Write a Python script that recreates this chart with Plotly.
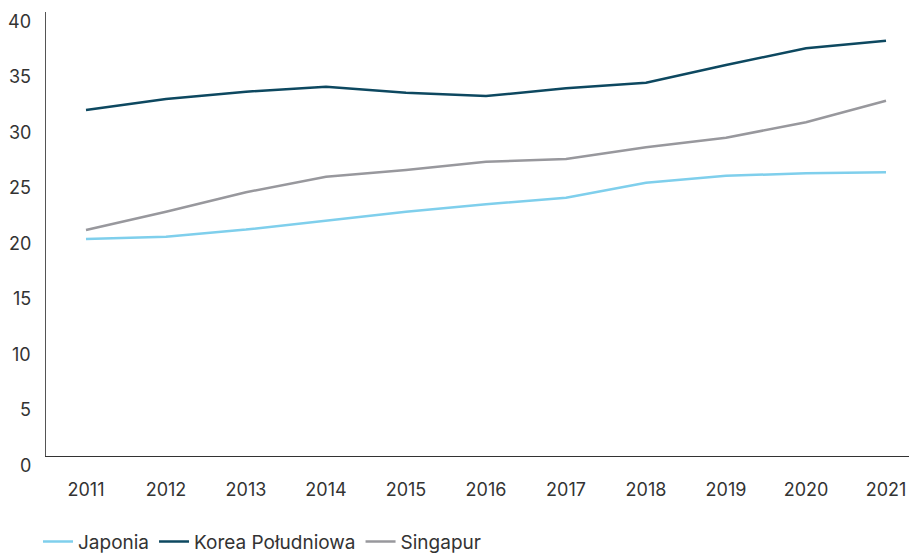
import plotly.graph_objects as go

years = ["2011", "2012", "2013", "2014", "2015", "2016", "2017", "2018", "2019", "2020", "2021"]
japonia = [19.55, 19.76, 20.40, 21.20, 22.01, 22.67, 23.27, 24.62, 25.25, 25.47, 25.56]
korea = [31.17, 32.16, 32.82, 33.27, 32.73, 32.43, 33.12, 33.63, 35.23, 36.73, 37.41]
singapur = [20.36, 22.01, 23.76, 25.16, 25.77, 26.51, 26.76, 27.81, 28.68, 30.06, 32.01]
y_ticks = [0, 5, 10, 15, 20, 25, 30, 35, 40]

FONT = "Inter, Roboto, sans-serif"
TXT = "#333333"

fig = go.Figure()
fig.add_trace(go.Scatter(x=years, y=japonia, name="Japonia", mode="lines",
                         line=dict(color="#7fcfec", width=2.5)))
fig.add_trace(go.Scatter(x=years, y=korea, name="Korea Południowa", mode="lines",
                         line=dict(color="#0d4860", width=2.5)))
fig.add_trace(go.Scatter(x=years, y=singapur, name="Singapur", mode="lines",
                         line=dict(color="#98989d", width=2.5)))

# y tick labels (drawn slightly below their tick value, as in the original)
for v in y_ticks:
    fig.add_annotation(x=0, xref="paper", y=v, yref="y", text=str(v),
                       showarrow=False, xanchor="right", yanchor="middle",
                       xshift=-13, yshift=-9,
                       font=dict(family=FONT, size=18, color=TXT))

fig.update_layout(
    width=909, height=548,
    margin=dict(l=38, r=0, t=4, b=100, autoexpand=False),
    paper_bgcolor="white", plot_bgcolor="white",
    font=dict(family=FONT, size=18, color=TXT),
    showlegend=True,
    legend=dict(orientation="h", x=-0.0092, xanchor="left", y=-0.150, yanchor="top",
                font=dict(size=19, color=TXT), itemwidth=30),
    xaxis=dict(type="category", range=[-0.5, 10.3875], showgrid=False, zeroline=False,
               showline=True, linecolor="#333333", linewidth=1.2, ticks="",
               automargin=False, ticklabelstandoff=17,
               tickfont=dict(size=18, color=TXT)),
    yaxis=dict(range=[0, 40], tickvals=y_ticks, showticklabels=False,
               showgrid=False, zeroline=False, automargin=False,
               showline=True, linecolor="#555555", linewidth=1.2, ticks=""),
)

fig.write_html("out.html")
